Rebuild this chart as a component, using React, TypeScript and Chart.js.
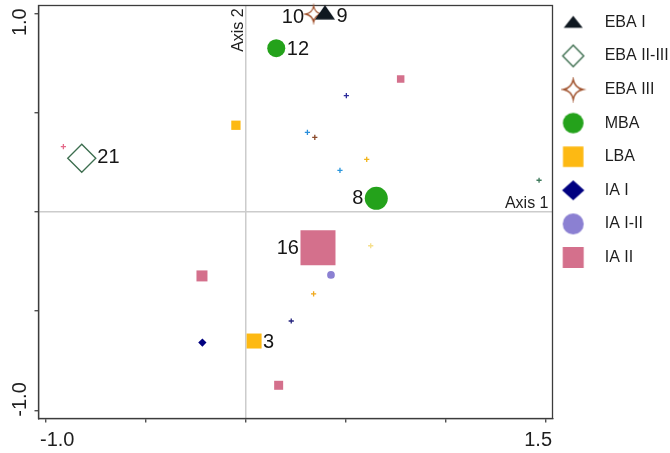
import React, { useEffect, useRef } from 'react';
import { Chart, registerables } from 'chart.js';

Chart.register(...registerables);

const FONT = "'Liberation Sans', Arial, Helvetica, sans-serif";

// ---------- data ----------
const groupNames = ['EBA I', 'EBA II-III', 'EBA III', 'MBA', 'LBA', 'IA I', 'IA I-II', 'IA II'];

// site scores: axis 1 (x) / axis 2 (y)
const ebaIX = [0.397];
const ebaIY = [1.005];
const ebaILabels = ['9'];

const ebaIIIIX = [-0.821];
const ebaIIIIY = [0.27];
const ebaIIIILabels = ['21'];

const ebaIIIX = [0.34];
const ebaIIIY = [0.996];
const ebaIIILabels = ['10'];

const mbaX = [0.153, 0.654];
const mbaY = [0.824, 0.068];
const mbaLabels = ['12', '8'];

const lbaX = [-0.049, 0.042];
const lbaY = [0.436, -0.651];
const lbaLabels = ['', '3'];

const iaIX = [-0.217];
const iaIY = [-0.659];
const iaILabels = [''];

const iaIIIX = [0.427];
const iaIIIY = [-0.318];
const iaIIILabels = [''];

const iaIIX = [0.776, -0.219, 0.165, 0.362];
const iaIIY = [0.669, -0.323, -0.874, -0.181];
const iaIILabels = ['', '', '', '16'];

// species / variable scores (small crosses)
const taxaX = [-0.913, 0.504, 0.309, 0.346, 0.606, 0.472, 1.469, 0.626, 0.34, 0.228];
const taxaY = [0.328, 0.585, 0.4, 0.375, 0.264, 0.209, 0.159, -0.171, -0.413, -0.55];

// ticks
const xTickValues = [-1, -0.5, 0, 0.5, 1, 1.5];
const xTickLabels = ['-1.0', '', '', '', '', '1.5'];
const yTickValues = [-1, -0.5, 0, 0.5, 1];
const yTickLabels = ['-1.0', '', '', '', '1.0'];
const axisNames = ['Axis 1', 'Axis 2'];

// ---------- styles ----------
const colEbaI = '#0f1820';
const colEbaIIIII = '#3d6e4f';
const colEbaIII = '#a0522d';
const colMba = '#24a21b';
const colLba = '#fdb913';
const colIaI = '#000080';
const colIaIII = '#8b80d2';
const colIaII = '#d4708c';
const taxaColors = ['#e46a8a', '#2c2c9c', '#2a8fdc', '#8b4a2a', '#f2b418', '#2a96dc', '#3f7a5c', '#f6df8a', '#f0a81c', '#25237e'];

// marker widths in px
const ebaISizes = [20];
const ebaIIIISizes = [28];
const ebaIIISizes = [16];
const mbaSizes = [18, 23];
const lbaSizes = [9.3, 15];
const iaISizes = [8.3];
const iaIIISizes = [7.7];
const iaIISizes = [7.5, 11, 9, 35];

const ebaISides = ['right'];
const ebaIIIISides = ['right'];
const ebaIIISides = ['left'];
const mbaSides = ['right', 'left'];
const lbaSides = ['', 'right'];
const iaIISides = ['', '', '', 'left'];

const ebaIDy = [4.5];
const ebaIIIIDy = [-1];
const ebaIIIDy = [3];
const mbaDy = [1, 0];
const lbaDy = [0, 1.5];
const iaIIDy = [0, 0, 0, 0.3];

function makeIcon(kind: string, w: number, h: number, fill: string | null, stroke: string | null, lw: number, dx = 0, dy = 0) {
  const c = document.createElement('canvas');
  const W = Math.ceil(w + 2 * Math.abs(dx) + lw) + 4;
  const H = Math.ceil(h + 2 * Math.abs(dy) + lw) + 4;
  c.width = W;
  c.height = H;
  const g = c.getContext('2d')!;
  const cx = W / 2 + dx;
  const cy = H / 2 + dy;
  g.beginPath();
  if (kind === 'triangle') {
    g.moveTo(cx, cy - h / 2);
    g.lineTo(cx + w / 2, cy + h / 2);
    g.lineTo(cx - w / 2, cy + h / 2);
    g.closePath();
  } else if (kind === 'diamond') {
    g.moveTo(cx, cy - h / 2);
    g.lineTo(cx + w / 2, cy);
    g.lineTo(cx, cy + h / 2);
    g.lineTo(cx - w / 2, cy);
    g.closePath();
  } else if (kind === 'circle') {
    g.ellipse(cx, cy, w / 2, h / 2, 0, 0, Math.PI * 2);
  } else if (kind === 'square') {
    g.rect(cx - w / 2, cy - h / 2, w, h);
  } else if (kind === 'star') {
    const rx = w / 2;
    const ry = h / 2;
    const k = 0.16;
    g.moveTo(cx, cy - ry);
    g.quadraticCurveTo(cx + rx * k, cy - ry * k, cx + rx, cy);
    g.quadraticCurveTo(cx + rx * k, cy + ry * k, cx, cy + ry);
    g.quadraticCurveTo(cx - rx * k, cy + ry * k, cx - rx, cy);
    g.quadraticCurveTo(cx - rx * k, cy - ry * k, cx, cy - ry);
    g.closePath();
  }
  if (fill) {
    g.fillStyle = fill;
    g.fill();
  }
  if (stroke && lw > 0) {
    g.strokeStyle = stroke;
    g.lineWidth = lw;
    g.lineJoin = 'miter';
    g.stroke();
  }
  return c;
}

const pointLabelPlugin = {
  id: 'pointLabels',
  afterDatasetsDraw(chart: any) {
    const ctx = chart.ctx;
    ctx.save();
    ctx.font = `20px ${FONT}`;
    ctx.fillStyle = '#161616';
    ctx.textBaseline = 'middle';
    chart.data.datasets.forEach((ds: any, di: number) => {
      if (!ds.pointLabels) return;
      const meta = chart.getDatasetMeta(di);
      meta.data.forEach((el: any, i: number) => {
        const t = ds.pointLabels[i];
        if (!t) return;
        const half = ds.markerSizes[i] / 2;
        const gap = 1.5;
        const side = ds.labelSides[i];
        const y = el.y + (ds.labelDy ? ds.labelDy[i] || 0 : 0);
        if (side === 'left') {
          ctx.textAlign = 'right';
          ctx.fillText(t, el.x - half - gap, y);
        } else {
          ctx.textAlign = 'left';
          ctx.fillText(t, el.x + half + gap, y);
        }
      });
    });
    ctx.restore();
  },
};

const framePlugin = {
  id: 'frameAndText',
  beforeDatasetsDraw(chart: any) {
    const { ctx, chartArea: a, scales } = chart;
    ctx.save();
    ctx.strokeStyle = '#3c3c3c';
    ctx.lineWidth = 1.3;
    ctx.strokeRect(a.left, a.top, a.right - a.left, a.bottom - a.top);

    const x0 = scales.x.getPixelForValue(0);
    const y0 = scales.y.getPixelForValue(0);
    ctx.fillStyle = '#1e1e1e';
    ctx.font = `16px ${FONT}`;
    ctx.textBaseline = 'alphabetic';
    ctx.textAlign = 'right';
    ctx.fillText(axisNames[0], a.right - 4, y0 - 3.5);
    ctx.save();
    ctx.translate(x0 - 2.7, a.top + 2.8);
    ctx.rotate(-Math.PI / 2);
    ctx.textAlign = 'right';
    ctx.fillText(axisNames[1], 0, 0);
    ctx.restore();
    ctx.restore();
  },
  afterDraw(chart: any) {
    const { ctx, chartArea: a, scales } = chart;
    ctx.save();
    ctx.fillStyle = '#1e1e1e';
    ctx.font = `20px ${FONT}`;
    ctx.textBaseline = 'alphabetic';
    const nx = xTickValues.length;
    xTickValues.forEach((v, i) => {
      const t = xTickLabels[i];
      if (!t) return;
      if (i === 0) {
        ctx.textAlign = 'left';
        ctx.fillText(t, a.left + 1.5, a.bottom + 27.2);
      } else if (i === nx - 1) {
        ctx.textAlign = 'right';
        ctx.fillText(t, a.right - 0.5, a.bottom + 27.2);
      } else {
        ctx.textAlign = 'center';
        ctx.fillText(t, scales.x.getPixelForValue(v), a.bottom + 27.2);
      }
    });
    const ny = yTickValues.length;
    yTickValues.forEach((v, i) => {
      const t = yTickLabels[i];
      if (!t) return;
      ctx.save();
      if (i === 0) {
        ctx.translate(26, a.bottom - 1.8);
        ctx.rotate(-Math.PI / 2);
        ctx.textAlign = 'left';
      } else if (i === ny - 1) {
        ctx.translate(26, a.top + 2.8);
        ctx.rotate(-Math.PI / 2);
        ctx.textAlign = 'right';
      } else {
        ctx.translate(26, scales.y.getPixelForValue(v));
        ctx.rotate(-Math.PI / 2);
        ctx.textAlign = 'center';
      }
      ctx.fillText(t, 0, 0);
      ctx.restore();
    });
    ctx.restore();
  },
};

export default function App() {
  const ref = useRef<HTMLCanvasElement>(null);

  useEffect(() => {
    const canvas = ref.current;
    if (!canvas) return;

    const legendDx = -1.4;
    const legendIcons = [
      makeIcon('triangle', 19, 12, colEbaI, null, 0, legendDx, -0.6),
      makeIcon('diamond', 21, 21.5, '#ffffff', colEbaIIIII, 1.4, legendDx),
      makeIcon('star', 19.5, 20, '#ffffff', colEbaIII, 1.4, legendDx),
      makeIcon('circle', 20.7, 20.7, colMba, null, 0, legendDx),
      makeIcon('square', 20.5, 20.5, colLba, null, 0, legendDx),
      makeIcon('diamond', 22.3, 20, colIaI, null, 0, legendDx),
      makeIcon('circle', 21, 21, colIaIII, null, 0, legendDx),
      makeIcon('square', 21, 21, colIaII, null, 0, legendDx),
    ];
    const triIcon = makeIcon('triangle', 20, 14.5, colEbaI, null, 0);
    const starIcon = makeIcon('star', 16, 16, '#ffffff', colEbaIII, 1.3);

    const pts = (xs: number[], ys: number[]) => xs.map((x, i) => ({ x, y: ys[i] }));
    const rectR = (s: number) => s / Math.SQRT2;
    const halfR = (s: number) => s / 2;

    const datasets: any[] = [
      {
        label: groupNames[0], data: pts(ebaIX, ebaIY), pointStyle: triIcon,
        pointRadius: ebaISizes.map(halfR), pointBackgroundColor: colEbaI, pointBorderWidth: 0,
        pointLabels: ebaILabels, markerSizes: ebaISizes, labelSides: ebaISides, labelDy: ebaIDy, clip: false,
      },
      {
        label: groupNames[1], data: pts(ebaIIIIX, ebaIIIIY), pointStyle: 'rectRot',
        pointRadius: ebaIIIISizes.map(halfR), pointBackgroundColor: '#ffffff', pointBorderColor: colEbaIIIII, pointBorderWidth: 1.4,
        pointLabels: ebaIIIILabels, markerSizes: ebaIIIISizes, labelSides: ebaIIIISides, labelDy: ebaIIIIDy, clip: false,
      },
      {
        label: groupNames[2], data: pts(ebaIIIX, ebaIIIY), pointStyle: starIcon,
        pointRadius: ebaIIISizes.map(halfR), pointBackgroundColor: '#ffffff', pointBorderWidth: 0,
        pointLabels: ebaIIILabels, markerSizes: ebaIIISizes, labelSides: ebaIIISides, labelDy: ebaIIIDy, clip: false,
      },
      {
        label: groupNames[3], data: pts(mbaX, mbaY), pointStyle: 'circle',
        pointRadius: mbaSizes.map(halfR), pointBackgroundColor: colMba, pointBorderWidth: 0,
        pointLabels: mbaLabels, markerSizes: mbaSizes, labelSides: mbaSides, labelDy: mbaDy, clip: false,
      },
      {
        label: groupNames[4], data: pts(lbaX, lbaY), pointStyle: 'rect',
        pointRadius: lbaSizes.map(rectR), pointBackgroundColor: colLba, pointBorderWidth: 0,
        pointLabels: lbaLabels, markerSizes: lbaSizes, labelSides: lbaSides, labelDy: lbaDy, clip: false,
      },
      {
        label: groupNames[5], data: pts(iaIX, iaIY), pointStyle: 'rectRot',
        pointRadius: iaISizes.map(halfR), pointBackgroundColor: colIaI, pointBorderWidth: 0,
        pointLabels: iaILabels, markerSizes: iaISizes, labelSides: [''], clip: false,
      },
      {
        label: groupNames[6], data: pts(iaIIIX, iaIIIY), pointStyle: 'circle',
        pointRadius: iaIIISizes.map(halfR), pointBackgroundColor: colIaIII, pointBorderWidth: 0,
        pointLabels: iaIIILabels, markerSizes: iaIIISizes, labelSides: [''], clip: false,
      },
      {
        label: groupNames[7], data: pts(iaIIX, iaIIY), pointStyle: 'rect',
        pointRadius: iaIISizes.map(rectR), pointBackgroundColor: colIaII, pointBorderWidth: 0,
        pointLabels: iaIILabels, markerSizes: iaIISizes, labelSides: iaIISides, labelDy: iaIIDy, clip: false,
      },
      {
        label: 'taxa', data: pts(taxaX, taxaY), pointStyle: 'cross',
        pointRadius: 2.6, pointBorderColor: taxaColors, pointBorderWidth: 1.3, pointBackgroundColor: taxaColors,
        clip: false,
      },
    ];

    const zeroGrid = (c: any) => (c.tick && Math.abs(c.tick.value) < 1e-9 ? '#cccccc' : 'rgba(0,0,0,0)');

    const chart = new Chart(canvas, {
      type: 'scatter',
      data: { datasets },
      options: {
        responsive: false,
        animation: false,
        events: [],
        devicePixelRatio: 1,
        layout: { autoPadding: false, padding: { left: 0, top: 5.5, right: 0, bottom: 0 } },
        scales: {
          x: {
            type: 'linear',
            min: -1.0376,
            max: 1.5363,
            afterBuildTicks: (s: any) => { s.ticks = xTickValues.map((v) => ({ value: v })); },
            afterFit: (s: any) => { s.height = 34.5; },
            ticks: { display: false },
            grid: { color: zeroGrid, lineWidth: 1.5, drawTicks: true, tickLength: 4, tickColor: '#333333', tickWidth: 1.2 },
            border: { display: true, color: '#3c3c3c', width: 1.3 },
          },
          y: {
            type: 'linear',
            min: -1.0413,
            max: 1.0393,
            afterBuildTicks: (s: any) => { s.ticks = yTickValues.map((v) => ({ value: v })); },
            afterFit: (s: any) => { s.width = 38.5; },
            ticks: { display: false },
            grid: { color: zeroGrid, lineWidth: 1.5, drawTicks: true, tickLength: 4, tickColor: '#333333', tickWidth: 1.2 },
            border: { display: true, color: '#3c3c3c', width: 1.3 },
          },
        },
        plugins: {
          tooltip: { enabled: false },
          legend: {
            display: true,
            position: 'right',
            align: 'start',
            maxWidth: 117.5,
            title: { display: true, text: '', padding: 0, font: { size: 8.8, lineHeight: 1 } },
            labels: {
              usePointStyle: true,
              pointStyleWidth: 44.2,
              padding: 0,
              color: '#1e1e1e',
              font: { family: FONT, size: 16, lineHeight: 2.1 },
              generateLabels: () =>
                groupNames.map((name, i) => ({
                  text: [name] as any,
                  pointStyle: legendIcons[i] as any,
                  fillStyle: 'rgba(0,0,0,0)',
                  strokeStyle: 'rgba(0,0,0,0)',
                  lineWidth: 0,
                  hidden: false,
                  datasetIndex: i,
                  fontColor: '#1e1e1e',
                })),
            },
          },
        },
      } as any,
      plugins: [framePlugin, pointLabelPlugin],
    });

    return () => chart.destroy();
  }, []);

  return (
    <div style={{ position: 'absolute', left: 0, top: 0, width: 670, height: 453, background: '#ffffff' }}>
      <canvas ref={ref} width={670} height={453} style={{ display: 'block', width: 670, height: 453 }} />
    </div>
  );
}
